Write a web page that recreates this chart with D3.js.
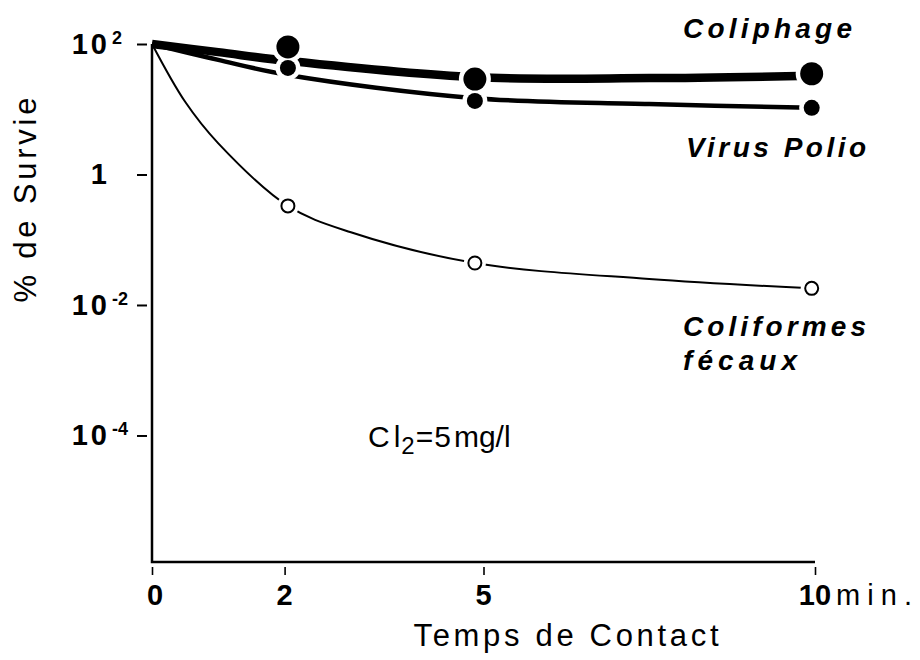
<!DOCTYPE html>
<html>
<head>
<meta charset="utf-8">
<script src="https://cdn.jsdelivr.net/npm/d3@7"></script>
<style>
  body { margin: 0; background: #fff; }
  text { font-family: "Liberation Sans", Arial, Helvetica, sans-serif; fill: #000; }
</style>
</head>
<body>
<svg id="chart" width="920" height="660"></svg>
<script>
// Sampling times (min) and measured survival (%) for each organism
const sampleTimes = [2.05, 4.87, 9.95];
const coliphage = [90, 29, 35];
const polio = [43, 13.4, 10.5];
const coliformes = [0.33, 0.044, 0.018];

// Hand-fitted trend curves (time in min, survival in %)
const coliphageCurveT = [0, 1, 2.05, 4.87, 7.5, 9.95];
const coliphageCurve = [100, 75, 55, 31, 30, 32.5];
const polioCurveT = [0, 1, 2.05, 4.87, 7.5, 9.95];
const polioCurve = [100, 57, 33.5, 14.8, 12, 10.5];
const coliformesCurveT = [0, 0.5, 1, 2.05, 3, 4.87, 7.5, 9.95];
const coliformesCurve = [100, 13, 3, 0.33, 0.13, 0.044, 0.025, 0.018];

// Axis ticks
const xTicks = [0, 2, 5, 10];
const xTickLabels = ["0", "2", "5", "10"];
const yTicks = [100, 1, 0.01, 0.0001];
const yTickBase = ["10", "1", "10", "10"];
const yTickExp = ["2", "", "-2", "-4"];

const svg = d3.select("#chart");

const x = d3.scaleLinear().domain([0, 10]).range([152, 815]);
const y = d3.scaleLog().domain([1.15e-6, 100]).range([562, 44]);

// Axis frame (L-shaped)
svg.append("path")
  .attr("d", `M${x(0)},${y(100)}V${y.range()[0]}H${x(10)}`)
  .attr("fill", "none").attr("stroke", "#000").attr("stroke-width", 2.5);

// X axis ticks, set slightly below the axis line
const xAxis = svg.append("g")
  .attr("transform", `translate(0,${y.range()[0] + 5})`)
  .call(d3.axisBottom(x).tickValues(xTicks).tickSize(8).tickFormat(""));
xAxis.select(".domain").remove();
xAxis.selectAll(".tick line").attr("stroke", "#000").attr("stroke-width", 1.6);

svg.append("g").selectAll("text").data(xTicks).join("text")
  .attr("x", d => x(d) + (d === 0 ? 3 : 0))
  .attr("y", 605)
  .attr("text-anchor", "middle")
  .attr("font-size", 29).attr("font-weight", "bold")
  .text((d, i) => xTickLabels[i]);

svg.append("text")
  .attr("x", 836).attr("y", 605)
  .attr("font-size", 29)
  .attr("textLength", 76).attr("lengthAdjust", "spacing")
  .text("min.");

// Y axis ticks, set slightly left of the axis line
const yAxis = svg.append("g")
  .attr("transform", `translate(${x(0) - 5},0)`)
  .call(d3.axisLeft(y).tickValues(yTicks).tickSize(10).tickFormat(""));
yAxis.select(".domain").remove();
yAxis.selectAll(".tick line").attr("stroke", "#000").attr("stroke-width", 2);

const yLab = svg.append("g").selectAll("g").data(yTicks).join("g")
  .attr("transform", d => `translate(0,${y(d)})`);
yLab.append("text")
  .attr("x", 110).attr("y", 10)
  .attr("text-anchor", "end")
  .attr("font-size", 29).attr("font-weight", "bold")
  .attr("letter-spacing", 3)
  .text((d, i) => yTickBase[i]);
yLab.append("text")
  .attr("x", 112).attr("y", 0)
  .attr("font-size", 18).attr("font-weight", "bold")
  .text((d, i) => yTickExp[i]);

// Axis titles
svg.append("text")
  .attr("transform", "translate(36,200) rotate(-90)")
  .attr("text-anchor", "middle")
  .attr("font-size", 31)
  .attr("textLength", 205).attr("lengthAdjust", "spacing")
  .text("% de Survie");

svg.append("text")
  .attr("x", 566).attr("y", 646)
  .attr("text-anchor", "middle")
  .attr("font-size", 31)
  .attr("textLength", 305).attr("lengthAdjust", "spacing")
  .text("Temps de Contact");

// Trend curves
const line = d3.line()
  .x(d => x(d[0])).y(d => y(d[1]))
  .curve(d3.curveCatmullRom.alpha(0.5));

const curves = [
  { t: coliphageCurveT, v: coliphageCurve, w: 8.5 },
  { t: polioCurveT, v: polioCurve, w: 4.5 },
  { t: coliformesCurveT, v: coliformesCurve, w: 2 }
];
svg.append("g").selectAll("path").data(curves).join("path")
  .attr("d", c => line(c.t.map((t, i) => [t, c.v[i]])))
  .attr("fill", "none").attr("stroke", "#000")
  .attr("stroke-width", c => c.w)
  .attr("stroke-linejoin", "round");

// Markers, each with a white gap cut into the curves around it
const markerSets = [
  { v: coliphage, r: 11.5, fill: "#000", sw: 0 },
  { v: polio, r: 8, fill: "#000", sw: 0 },
  { v: coliformes, r: 6.5, fill: "#fff", sw: 2 }
];
const pts = markerSets.flatMap(s => s.v.map((v, i) => ({ t: sampleTimes[i], v, s })));

svg.append("g").selectAll("circle").data(pts).join("circle")
  .attr("cx", d => x(d.t)).attr("cy", d => y(d.v))
  .attr("r", d => d.s.r + 4.5)
  .attr("fill", "#fff");

svg.append("g").selectAll("circle").data(pts).join("circle")
  .attr("cx", d => x(d.t)).attr("cy", d => y(d.v))
  .attr("r", d => d.s.r)
  .attr("fill", d => d.s.fill)
  .attr("stroke", "#000").attr("stroke-width", d => d.s.sw);

// Series labels
const seriesLabels = [
  { text: "Coliphage", x: 683, y: 38, w: 169 },
  { text: "Virus Polio", x: 686, y: 157, w: 180 },
  { text: "Coliformes", x: 683, y: 336, w: 183 },
  { text: "fécaux", x: 683, y: 370, w: 114 }
];
svg.append("g").selectAll("text").data(seriesLabels).join("text")
  .attr("x", d => d.x).attr("y", d => d.y)
  .attr("font-size", 28).attr("font-weight", "bold").attr("font-style", "italic")
  .attr("textLength", d => d.w).attr("lengthAdjust", "spacing")
  .text(d => d.text);

// Chlorine dose annotation
const dose = svg.append("text")
  .attr("x", 368).attr("y", 447)
  .attr("font-size", 30);
dose.append("tspan").text("C");
dose.append("tspan").attr("dx", 4).text("l");
dose.append("tspan").attr("dy", 7).attr("dx", 1).attr("font-size", 24).text("2");
dose.append("tspan").attr("dy", -7).attr("dx", 1).text("=");
dose.append("tspan").attr("dx", 1).text("5");
dose.append("tspan").attr("dx", 3).text("mg/l");
</script>
</body>
</html>
